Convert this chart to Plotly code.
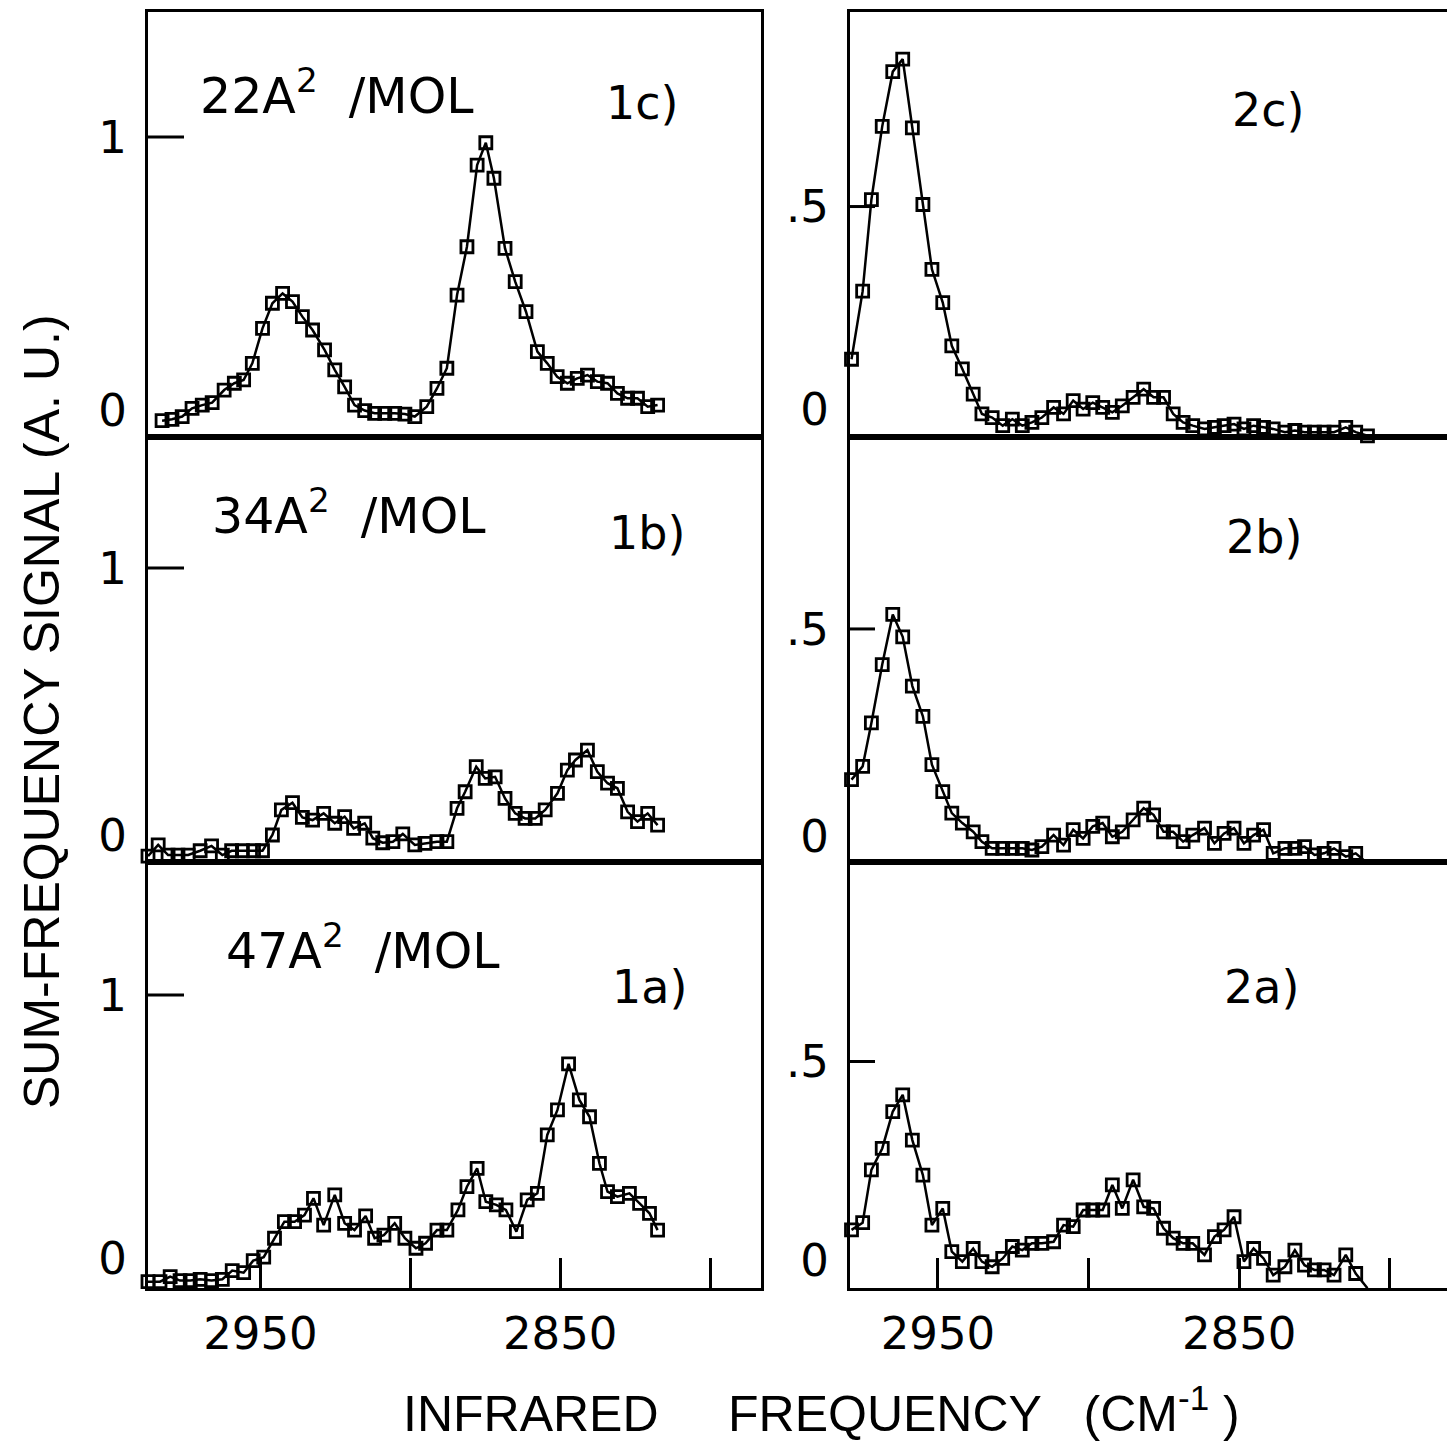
import plotly.graph_objects as go

# ---------------- data ----------------
freq_1c = [2982.8, 2979.5, 2976.1, 2972.8, 2969.4, 2966.1, 2962.1, 2958.7, 2955.6, 2952.7,
           2949.3, 2946.0, 2942.6, 2939.3, 2936.0, 2932.6, 2928.6, 2925.2, 2921.9, 2918.6,
           2915.2, 2911.9, 2908.5, 2905.2, 2901.8, 2898.5, 2894.5, 2891.1, 2887.8, 2884.4,
           2881.1, 2877.7, 2874.8, 2872.1, 2868.4, 2865.0, 2861.4, 2857.6, 2854.3, 2851.0,
           2847.6, 2844.3, 2840.9, 2837.6, 2834.2, 2830.9, 2827.5, 2824.2, 2820.8, 2817.5]
sig_1c = [-0.039, -0.034, -0.024, 0.006, 0.018, 0.027, 0.073, 0.098, 0.110, 0.171,
          0.299, 0.391, 0.427, 0.397, 0.342, 0.293, 0.220, 0.147, 0.085, 0.018,
          -0.002, -0.012, -0.012, -0.012, -0.015, -0.024, 0.012, 0.079, 0.153, 0.421,
          0.598, 0.897, 0.979, 0.849, 0.592, 0.470, 0.360, 0.214, 0.171, 0.122,
          0.098, 0.116, 0.128, 0.104, 0.098, 0.061, 0.043, 0.043, 0.012, 0.018]

freq_1b = [2987.5, 2984.1, 2980.8, 2977.5, 2974.1, 2970.1, 2966.3, 2962.7, 2959.6, 2956.0,
           2952.3, 2949.3, 2946.0, 2943.0, 2939.3, 2936.0, 2932.6, 2928.9, 2925.2, 2921.9,
           2918.9, 2915.2, 2912.5, 2909.2, 2905.8, 2902.5, 2898.5, 2895.1, 2891.1, 2887.8,
           2884.4, 2881.7, 2878.0, 2875.0, 2871.7, 2868.4, 2865.0, 2861.7, 2858.3, 2855.0,
           2850.9, 2847.6, 2844.9, 2840.9, 2837.6, 2834.2, 2830.9, 2827.5, 2824.2, 2820.8,
           2817.5]
sig_1b = [-0.079, -0.037, -0.075, -0.075, -0.075, -0.059, -0.041, -0.075, -0.059, -0.059,
          -0.059, -0.059, 0.000, 0.094, 0.121, 0.066, 0.056, 0.081, 0.044, 0.069,
          0.025, 0.044, -0.012, -0.029, -0.025, 0.004, -0.037, -0.031, -0.025, -0.025,
          0.100, 0.162, 0.256, 0.212, 0.218, 0.137, 0.081, 0.062, 0.062, 0.094,
          0.156, 0.243, 0.281, 0.318, 0.237, 0.194, 0.175, 0.087, 0.050, 0.081,
          0.037]

freq_1a = [2987.5, 2983.5, 2980.1, 2976.8, 2973.4, 2970.1, 2966.3, 2962.7, 2959.4, 2955.6,
           2952.4, 2948.9, 2945.3, 2942.0, 2938.6, 2935.3, 2932.3, 2928.9, 2925.2, 2921.9,
           2918.6, 2914.9, 2911.9, 2908.8, 2905.2, 2901.8, 2898.1, 2894.9, 2891.1, 2887.8,
           2884.1, 2881.1, 2877.7, 2874.8, 2871.3, 2868.1, 2864.6, 2861.0, 2857.6, 2854.3,
           2850.9, 2847.2, 2843.6, 2840.2, 2836.9, 2834.2, 2830.9, 2826.9, 2823.5, 2820.2,
           2817.5]
sig_1a = [-0.090, -0.090, -0.071, -0.086, -0.086, -0.081, -0.086, -0.081, -0.048, -0.056,
          -0.010, 0.003, 0.075, 0.138, 0.138, 0.163, 0.227, 0.125, 0.240, 0.132,
          0.106, 0.160, 0.075, 0.087, 0.132, 0.075, 0.037, 0.056, 0.106, 0.106,
          0.183, 0.271, 0.341, 0.214, 0.202, 0.183, 0.100, 0.221, 0.246, 0.468,
          0.563, 0.738, 0.601, 0.537, 0.360, 0.252, 0.233, 0.246, 0.208, 0.170,
          0.106]

freq_2 = [2978.7, 2975.0, 2972.1, 2968.5, 2965.0, 2961.7, 2958.5, 2955.0, 2952.0, 2948.4,
          2945.4, 2941.9, 2938.3, 2935.4, 2932.0, 2928.5, 2925.3, 2922.0, 2918.8, 2915.5,
          2911.6, 2908.3, 2905.1, 2901.8, 2898.6, 2895.3, 2892.1, 2888.8, 2885.2, 2881.7,
          2878.4, 2875.1, 2871.9, 2868.6, 2865.4, 2861.5, 2858.2, 2855.0, 2851.7, 2848.4,
          2845.2, 2841.9, 2838.7, 2834.8, 2831.5, 2828.3, 2825.0, 2821.8, 2818.5, 2814.6,
          2811.3, 2807.4]
sig_2c = [0.123, 0.291, 0.517, 0.698, 0.833, 0.864, 0.694, 0.505, 0.345, 0.263,
          0.156, 0.099, 0.037, -0.012, -0.021, -0.041, -0.025, -0.041, -0.033, -0.021,
          0.004, -0.012, 0.021, 0.000, 0.016, 0.004, -0.008, 0.008, 0.029, 0.049,
          0.029, 0.029, -0.012, -0.033, -0.041, -0.049, -0.045, -0.041, -0.037, -0.049,
          -0.041, -0.045, -0.049, -0.057, -0.053, -0.057, -0.057, -0.057, -0.057, -0.045,
          -0.057, -0.066]
sig_2b = [0.136, 0.168, 0.273, 0.414, 0.535, 0.481, 0.362, 0.289, 0.172, 0.107,
          0.055, 0.031, 0.010, -0.014, -0.030, -0.030, -0.030, -0.030, -0.034, -0.026,
          0.002, -0.022, 0.015, -0.006, 0.023, 0.031, -0.002, 0.010, 0.039, 0.067,
          0.051, 0.010, 0.010, -0.014, 0.002, 0.019, -0.018, 0.006, 0.019, -0.018,
          0.002, 0.015, -0.042, -0.030, -0.030, -0.026, -0.046, -0.042, -0.030, -0.050,
          -0.042, -0.066]
sig_2a = [0.076, 0.094, 0.227, 0.281, 0.374, 0.416, 0.302, 0.214, 0.088, 0.130,
          0.021, -0.004, 0.029, -0.004, -0.017, 0.004, 0.034, 0.025, 0.042, 0.042,
          0.046, 0.088, 0.084, 0.126, 0.126, 0.126, 0.189, 0.130, 0.202, 0.134,
          0.130, 0.080, 0.055, 0.042, 0.042, 0.013, 0.059, 0.076, 0.109, -0.004,
          0.029, 0.004, -0.038, -0.017, 0.025, -0.013, -0.025, -0.025, -0.038, 0.013,
          -0.034, -0.071]

panel_labels = ["1c)", "2c)", "1b)", "2b)", "1a)", "2a)"]
area_labels = ["22A<sup>2</sup>\u00a0\u00a0/MOL",
               "34A<sup>2</sup>\u00a0\u00a0/MOL",
               "47A<sup>2</sup>\u00a0\u00a0/MOL"]
x_tick_vals = [2950, 2900, 2850, 2800]
x_tick_text = ["2950", "", "2850", ""]
x_title = ("INFRARED\u00a0\u00a0\u00a0\u00a0\u00a0FREQUENCY\u00a0\u00a0\u00a0"
           "(CM<sup>-1</sup>\u00a0)")
y_title = "SUM-FREQUENCY SIGNAL (A. U.)"

# ---------------- layout helpers ----------------
# the page body has an 8px margin, so the figure is drawn 8px in from the top-left
OFF = 8
W, H = 1447, 1434
FONT_T = "Liberation Sans, Arial, Helvetica, sans-serif"
FONT_L = "DejaVu Sans, Liberation Sans, Arial, sans-serif"


def px(x):
    return (x - OFF) / W


def py(y):
    return 1 - (y - OFF) / H


col_px = [(148, 761), (850, 1453)]
row_px = [(12, 437), (437, 862), (862, 1288)]
x_ranges = [[2987.5, 2783.0], [2979.2, 2779.0]]

panels = [
    dict(x=freq_1c, y=sig_1c, row=0, col=0, yr=[-0.0989, 1.4579]),
    dict(x=freq_2, y=sig_2c, row=0, col=1, yr=[-0.0690, 0.9803]),
    dict(x=freq_1b, y=sig_1b, row=1, col=0, yr=[-0.1011, 1.4906]),
    dict(x=freq_2, y=sig_2b, row=1, col=1, yr=[-0.0630, 0.9637]),
    dict(x=freq_1a, y=sig_1a, row=2, col=0, yr=[-0.1141, 1.5057]),
    dict(x=freq_2, y=sig_2a, row=2, col=1, yr=[-0.0705, 1.0025]),
]

fig = go.Figure()
layout = dict(
    width=W, height=H,
    margin=dict(l=0, r=0, t=0, b=0),
    paper_bgcolor="white", plot_bgcolor="white",
    showlegend=False,
    font=dict(family=FONT_L, color="black", size=44),
)
shapes = []
annotations = []

for i, p in enumerate(panels, start=1):
    sfx = "" if i == 1 else str(i)
    c0, c1 = col_px[p["col"]]
    r0, r1 = row_px[p["row"]]
    bottom = p["row"] == 2
    top_tick = 1 if p["col"] == 0 else 0.5
    fig.add_trace(go.Scatter(
        x=p["x"], y=p["y"], xaxis="x" + sfx, yaxis="y" + sfx,
        mode="lines+markers", cliponaxis=False,
        line=dict(color="black", width=2.5),
        marker=dict(symbol="square-open", size=12, color="black",
                    line=dict(color="black", width=2.8)),
        hoverinfo="x+y",
    ))
    xa = dict(
        domain=[px(c0), min(1.0, px(c1))], anchor="y" + sfx, range=x_ranges[p["col"]],
        showgrid=False, zeroline=False, showline=True, mirror=True,
        linecolor="black", linewidth=3, fixedrange=True,
        tickmode="array", tickvals=x_tick_vals,
    )
    if bottom:
        xa.update(ticks="inside", ticklen=30, tickwidth=2.5, tickcolor="black",
                  ticktext=x_tick_text, showticklabels=True,
                  tickfont=dict(family=FONT_L, size=45), ticklabelstandoff=4)
    else:
        xa.update(ticks="", showticklabels=False)
    ya = dict(
        domain=[py(r1), py(r0)], anchor="x" + sfx, range=p["yr"],
        showgrid=False, zeroline=False, showline=True, mirror=True,
        linecolor="black", linewidth=3, fixedrange=True,
        tickmode="array", tickvals=[0, top_tick],
        ticktext=["0", "1" if p["col"] == 0 else ".5"],
        ticks="", tickfont=dict(family=FONT_L, size=45), ticklabelstandoff=9,
    )
    layout["xaxis" + sfx] = xa
    layout["yaxis" + sfx] = ya
    # inside tick mark at the upper labelled value
    tick_len = (36 if p["col"] == 0 else 25) / (c1 - c0)
    shapes.append(dict(type="line", xref="x" + sfx + " domain", yref="y" + sfx,
                       x0=0, x1=tick_len, y0=top_tick, y1=top_tick,
                       line=dict(color="black", width=3)))

# panel labels
label_pos = {
    "1c)": (604, 103), "2c)": (1230, 110),
    "1b)": (607, 533), "2b)": (1224, 537),
    "1a)": (610, 987), "2a)": (1222, 987),
}
for lab in panel_labels:
    x0, y0 = label_pos[lab]
    annotations.append(dict(text=lab, x=px(x0), y=py(y0), xref="paper", yref="paper",
                            xanchor="left", yanchor="middle", showarrow=False,
                            font=dict(family=FONT_L, size=46)))
area_pos = [(198, 93), (210, 513), (224, 947)]
for txt, (x0, y0) in zip(area_labels, area_pos):
    annotations.append(dict(text=txt, x=px(x0), y=py(y0), xref="paper", yref="paper",
                            xanchor="left", yanchor="middle", showarrow=False,
                            font=dict(family=FONT_L, size=49)))

# axis titles
annotations.append(dict(text=y_title, x=px(42), y=py(712), xref="paper", yref="paper",
                        textangle=-90, xanchor="center", yanchor="middle",
                        showarrow=False, font=dict(family=FONT_T, size=50)))
annotations.append(dict(text=x_title, x=px(822), y=py(1410), xref="paper", yref="paper",
                        xanchor="center", yanchor="middle", showarrow=False,
                        font=dict(family=FONT_T, size=50)))

layout["shapes"] = shapes
layout["annotations"] = annotations
fig.update_layout(**layout)
fig.write_html("out.html")
